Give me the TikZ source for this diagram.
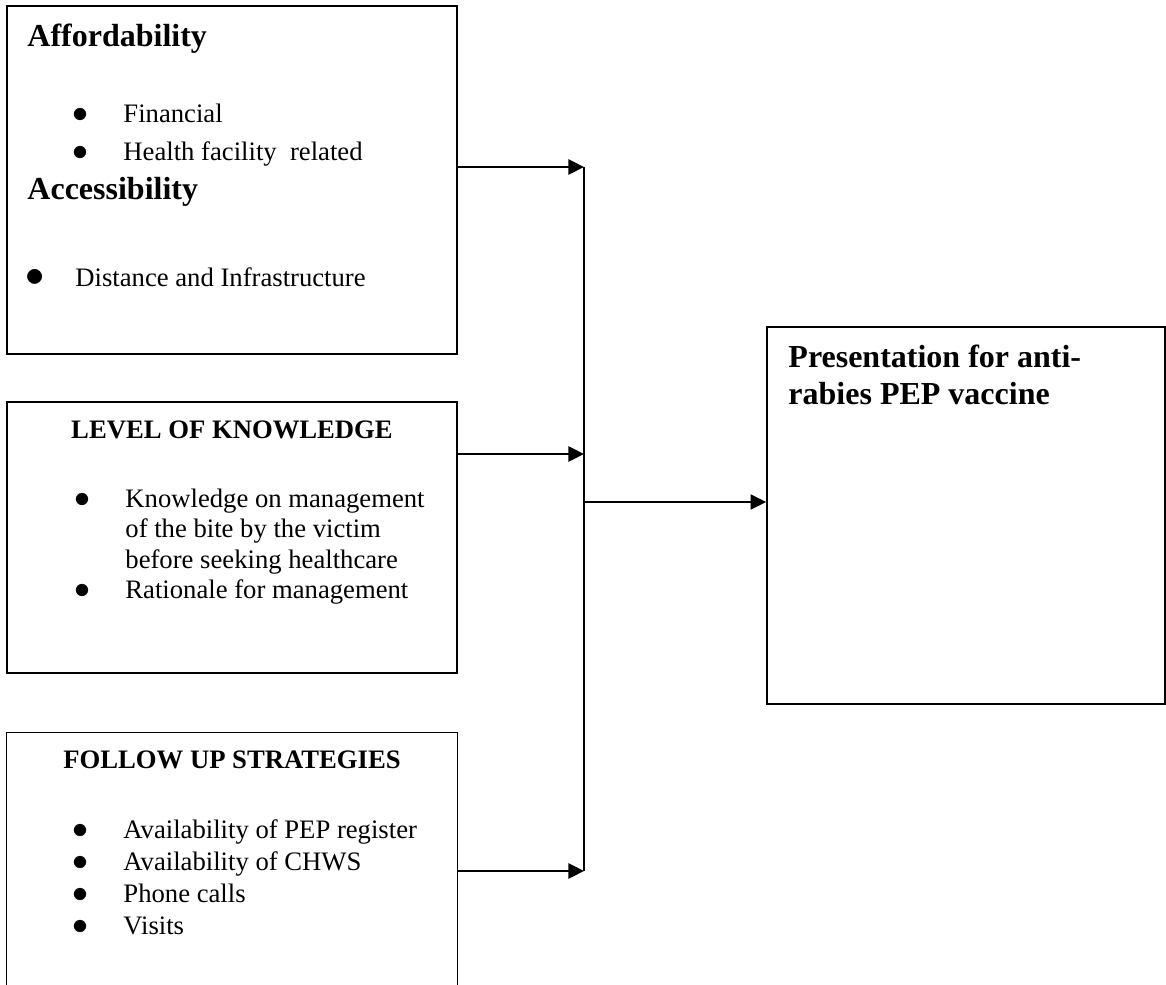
\documentclass[tikz,border=0pt]{standalone}
\usepackage{fontspec}
\setmainfont{Liberation Serif}
\usetikzlibrary{arrows.meta,fit,calc}
\tikzset{
  >={Triangle[length=7pt,width=6.8pt]},
  panel/.style={draw,line width=0.8pt,inner sep=0pt},
  edge/.style={line width=0.9pt},
  link/.style={line width=0.9pt,->},
  bighead/.style={anchor=base west,inner sep=0pt,font=\fontsize{14.4}{16.6}\selectfont\bfseries},
  caphead/.style={anchor=base,inner sep=0pt,font=\fontsize{12}{14}\selectfont\bfseries},
  items/.style={anchor=base west,inner sep=0pt,font=\fontsize{12}{13.8}\selectfont}
}
\newcommand{\bul}{{\fontsize{14}{14}\selectfont$\bullet$}}
\newcommand{\bigbul}{{\fontsize{18}{18}\selectfont$\bullet$}}

\begin{document}
\begin{tikzpicture}[x=0.45pt,y=-0.45pt]
\useasboundingbox (0,0) rectangle (1166,985);
% boxes
\node[panel,fit={(7,6) (457,354)}](afford){};
\node[panel,fit={(7,402) (457,673)}](know){};
\node[inner sep=0pt,fit={(7,733) (457,985)}](follow){};
\draw[line width=0.8pt](follow.south west) |- (follow.north east) -- (follow.south east);
\node[panel,fit={(767,327) (1165,704)}](present){};
% texts
\node[bighead](affordT) at (27,47){Affordability};
\node[items](affordL) at (72,123){\begin{tabular}[t]{@{}p{22.95pt}@{}l@{}}\bul & Financial\\[3.3pt]
  \bul & Health facility\ \ related\end{tabular}};
\node[bighead](accessT) at (27,200){Accessibility};
\node[items](accessL) at (25,287){\begin{tabular}[t]{@{}p{22.5pt}@{}l@{}}\bigbul & Distance and Infrastructure\end{tabular}};
\node[caphead](knowT) at (232,438){LEVEL OF KNOWLEDGE};
\node[items](knowL) at (74,507){\begin{tabular}[t]{@{}p{22.95pt}@{}l@{}}\bul & Knowledge on management\\
  & of the bite by the victim\\
  & before seeking healthcare\\
  \bul & Rationale for management\end{tabular}};
\node[caphead](followT) at (232,768){FOLLOW UP STRATEGIES};
\node[items,font=\fontsize{12}{14.4}\selectfont](followL) at (72,838){\begin{tabular}[t]{@{}p{22.95pt}@{}l@{}}\bul & Availability of PEP register\\
  \bul & Availability of CHWS\\
  \bul & Phone calls\\
  \bul & Visits\end{tabular}};
\node[bighead](presentT) at (788,368){\begin{tabular}[t]{@{}l@{}}Presentation for anti-\\rabies PEP vaccine\end{tabular}};
% connectors
\coordinate(j1) at (584,167);
\coordinate(j2) at (584,454);
\coordinate(j3) at (584,871);
\coordinate(j0) at (584,502);
\draw[link](afford.east |- j1) -- (j1);
\draw[link](know.east |- j2) -- (j2);
\draw[link](follow.east |- j3) -- (j3);
\draw[edge](j1) -- (j3);
\draw[link](j0) -- (present.west |- j0);
\end{tikzpicture}
\end{document}
